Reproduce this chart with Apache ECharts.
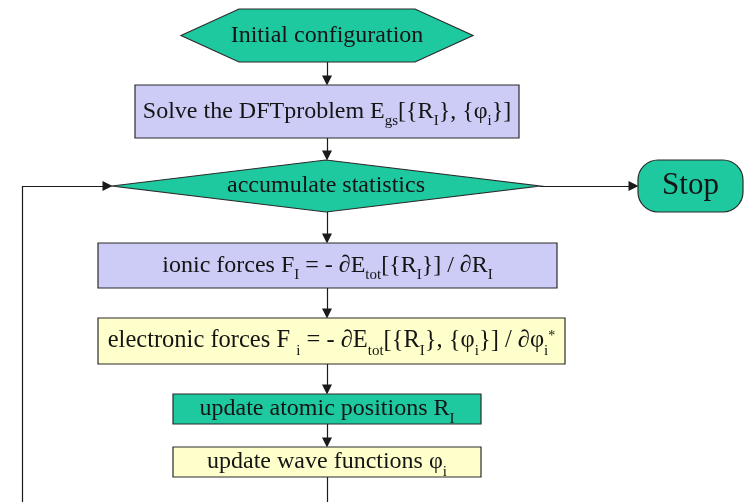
<!DOCTYPE html>
<html><head><meta charset="utf-8">
<script src="https://cdn.jsdelivr.net/npm/echarts@6/dist/echarts.min.js"></script>
<style>html,body{margin:0;padding:0;background:#fff}#c{width:750px;height:502px}</style>
</head><body><div id="c"></div>
<script>
// ---- data ----
const stepLabels = [
  'Initial configuration',
  'Solve the DFTproblem E{sub|gs}[{R{sub|I}}, {φ{sub|i}}]',
  'accumulate statistics',
  'Stop',
  'ionic forces F{sub|I} = - ∂E{sub|tot}[{R{sub|I}}] / ∂R{sub|I}',
  'electronic forces F {sub|i} = - ∂E{sub|tot}[{R{sub|I}}, {φ{sub|i}}] / ∂φ{sub|i}{sup|*}',
  'update atomic positions R{sub|I}',
  'update wave functions φ{sub|i}'
];
const stepKinds = ['hexagon', 'process', 'decision', 'terminal', 'process', 'process', 'process', 'process'];
const flowLinks = [[0, 1], [1, 2], [2, 4], [4, 5], [5, 6], [6, 7]];
const exitLinks = [[2, 3]];
const loopLink = [7, 2];

// ---- layout (chart units = px of a 750x502 plane) ----
const layout = [
  [327, 35.5, 292, 53],
  [327, 111.5, 384, 53],
  [326, 186, 428, 52],
  [690.5, 186, 105, 52],
  [327.5, 265.5, 459, 45],
  [331.5, 341, 467, 46],
  [327, 409, 308, 30],
  [327, 462, 308, 30]
];
const trunkX = 327, loopX = 22, planeW = 750, planeH = 502, arrowHalf = 4.5;

// ---- styles ----
const TEAL = '#1fc9a0', LAV = '#ccccf7', YEL = '#ffffcc';
const nodeFill = [TEAL, LAV, TEAL, TEAL, LAV, YEL, TEAL, YEL];
const nodeFont = [24, 24, 24, 31, 24, 24.5, 24, 24];
const SERIF = '"Liberation Serif", "DejaVu Serif", serif';
const INK = '#141414';

function renderNode(params, api) {
  const i = params.dataIndex;
  const c = api.coord([api.value(0), api.value(1)]);
  const sz = api.size([api.value(2), api.value(3)]);
  const w = Math.abs(sz[0]), h = Math.abs(sz[1]);
  const x0 = c[0] - w / 2, y0 = c[1] - h / 2, x1 = c[0] + w / 2, y1 = c[1] + h / 2;
  const st = { fill: nodeFill[i], stroke: '#2a2a2a', lineWidth: 1.2 };
  let shape;
  const kind = stepKinds[i];
  if (kind === 'hexagon') {
    const k = 58;
    shape = { type: 'polygon', shape: { points: [[x0, c[1]], [x0 + k, y0], [x1 - k, y0], [x1, c[1]], [x1 - k, y1], [x0 + k, y1]] }, style: st };
  } else if (kind === 'decision') {
    shape = { type: 'polygon', shape: { points: [[x0, c[1]], [c[0], y0], [x1, c[1]], [c[0], y1]] }, style: st };
  } else if (kind === 'terminal') {
    shape = { type: 'rect', shape: { x: x0, y: y0, width: w, height: h, r: 20 }, style: st };
  } else {
    shape = { type: 'rect', shape: { x: x0, y: y0, width: w, height: h }, style: st };
  }
  const fs = nodeFont[i];
  const text = {
    type: 'text', x: c[0], y: c[1],
    style: {
      text: stepLabels[i], fill: INK, fontSize: fs, fontFamily: SERIF,
      align: 'center', verticalAlign: 'middle', lineHeight: 30,
      rich: {
        sub: { fontSize: 15, fontFamily: SERIF, fill: INK, padding: [20, 0, 0, 0], lineHeight: 30 },
        sup: { fontSize: 14, fontFamily: SERIF, fill: INK, padding: [0, 0, 10, 0], lineHeight: 30 }
      }
    }
  };
  return { type: 'group', children: [shape, text] };
}

// connectors built from layout
const arrowSegs = [];
flowLinks.forEach(([a, b]) => {
  const A = layout[a], B = layout[b];
  arrowSegs.push({ coords: [[trunkX, A[1] + A[3] / 2], [trunkX, B[1] - B[3] / 2 - arrowHalf]] });
});
exitLinks.forEach(([a, b]) => {
  const A = layout[a], B = layout[b];
  arrowSegs.push({ coords: [[A[0] + A[2] / 2, A[1]], [B[0] - B[2] / 2 - arrowHalf, B[1]]] });
});
const L7 = layout[loopLink[0]], L2 = layout[loopLink[1]];
arrowSegs.push({ coords: [[loopX, L2[1]], [L2[0] - L2[2] / 2 - arrowHalf, L2[1]]] });
const plainSegs = [
  { coords: [[trunkX, L7[1] + L7[3] / 2], [trunkX, planeH]] },
  { coords: [[loopX, planeH], [loopX, L2[1]]] }
];

const chart = echarts.init(document.getElementById('c'), null, { renderer: 'canvas' });
chart.setOption({
  backgroundColor: '#ffffff',
  animation: false,
  grid: { left: 0, right: 0, top: 0, bottom: 0 },
  xAxis: { type: 'value', min: 0, max: planeW, show: false },
  yAxis: { type: 'value', min: 0, max: planeH, inverse: true, show: false },
  series: [
    {
      type: 'lines', coordinateSystem: 'cartesian2d', z: 1,
      symbol: ['none', 'triangle'], symbolSize: [9, 10],
      lineStyle: { color: '#1a1a1a', width: 1.2, opacity: 1, curveness: 0 },
      data: arrowSegs
    },
    {
      type: 'lines', coordinateSystem: 'cartesian2d', z: 1,
      symbol: ['none', 'none'],
      lineStyle: { color: '#1a1a1a', width: 1.2, opacity: 1, curveness: 0 },
      data: plainSegs
    },
    {
      type: 'custom', coordinateSystem: 'cartesian2d', z: 2, clip: false,
      renderItem: renderNode,
      encode: { x: 0, y: 1 },
      data: layout.map(v => v.slice())
    }
  ]
});
</script>
</body></html>
